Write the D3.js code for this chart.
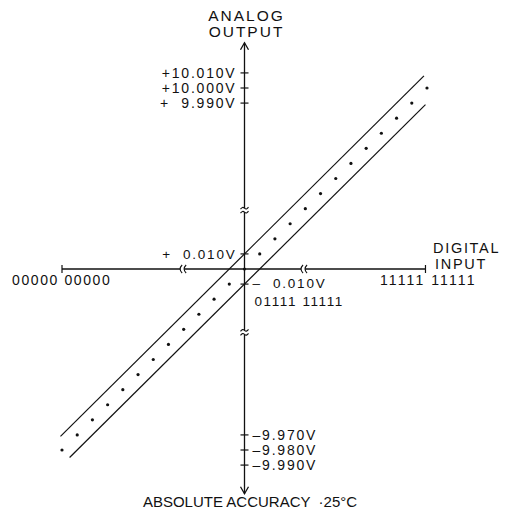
<!DOCTYPE html>
<html>
<head>
<meta charset="utf-8">
<script src="https://cdn.jsdelivr.net/npm/d3@7"></script>
<style>
  html, body { margin: 0; padding: 0; background: #fff; }
  svg { display: block; }
  text { font-family: "Liberation Sans", Arial, Helvetica, sans-serif; fill: #111; white-space: pre; }
</style>
</head>
<body>
<svg id="chart" width="510" height="521"></svg>
<script>
// ---- data (schematic units: 1 unit = one drawn step = 0.010 V offset) ----
const codeSteps   = [-12,-11,-10,-9,-8,-7,-6,-5,-4,-3,-2,-1,0,1,2,3,4,5,6,7,8,9,10,11,12];
const outputSteps = [-12,-11,-10,-9,-8,-7,-6,-5,-4,-3,-2,-1,0,1,2,3,4,5,6,7,8,9,10,11,12];
const errorBand   = 1;                      // ±0.010 V
const upperBandSteps = [-12.1, 11.8];       // extent of +error line
const lowerBandSteps = [-11.5, 11.9];       // extent of -error line
const yTickValues = [13, 12, 11, 1, -1, -11, -12, -13];
const yTickLabels = ["+10.010V", "+10.000V", "+  9.990V", "+  0.010V", "–  0.010V", "–9.970V", "–9.980V", "–9.990V"];
const xCodeValues = [-12, 0, 12];
const xCodeLabels = ["00000 00000", "01111 11111", "11111 11111"];
const xAxisExtent = [-12, 11.9];
const yAxisExtent = [15, -14.9];
const xBreaks = [-4.1, 3.85];
const yBreaks = [3.9, -4.2];
const yTitle = ["ANALOG", "OUTPUT"];
const xTitle = ["DIGITAL", "INPUT"];
const chartTitle = "ABSOLUTE ACCURACY  ·25°C";

const svg = d3.select("#chart");
svg.append("rect").attr("width", 510).attr("height", 521).attr("fill", "#fff");

const x = d3.scaleLinear().domain([-12, 12]).range([62, 427]);
const y = d3.scaleLinear().domain([-12, 12]).range([450, 88]);
const X0 = x(0), Y0 = y(0);
const ink = "#111";

// ---- axes ----
const g = svg.append("g");
// horizontal axis (digital input)
g.append("line").attr("x1", x(xAxisExtent[0])).attr("x2", x(xAxisExtent[1]))
  .attr("y1", Y0).attr("y2", Y0).attr("stroke", ink).attr("stroke-width", 1.3);
xAxisExtent.forEach(v => {
  g.append("line").attr("x1", x(v)).attr("x2", x(v)).attr("y1", Y0 - 4).attr("y2", Y0 + 4)
    .attr("stroke", ink).attr("stroke-width", 1.2);
});
// vertical axis (analog output)
g.append("line").attr("x1", X0).attr("x2", X0)
  .attr("y1", y(yAxisExtent[0])).attr("y2", y(yAxisExtent[1]))
  .attr("stroke", ink).attr("stroke-width", 1.3);
// arrowheads
[[yAxisExtent[0], 1], [yAxisExtent[1], -1]].forEach(([v, dir]) => {
  const ty = y(v);
  g.append("path")
    .attr("d", `M${X0 - 4},${ty + dir * 7} L${X0},${ty} L${X0 + 4},${ty + dir * 7}`)
    .attr("fill", "none").attr("stroke", ink).attr("stroke-width", 1.3);
});
// y ticks
g.selectAll(".ytick").data(yTickValues).join("line")
  .attr("x1", X0 - 4).attr("x2", X0 + 4)
  .attr("y1", d => y(d)).attr("y2", d => y(d))
  .attr("stroke", ink).attr("stroke-width", 1.2);

// breaks on vertical axis
yBreaks.forEach(v => {
  const by = y(v);
  g.append("rect").attr("x", X0 - 3).attr("y", by - 2).attr("width", 6).attr("height", 4).attr("fill", "#fff");
  [-2, 2].forEach(o => {
    g.append("path")
      .attr("d", `M${X0 - 4},${by + o + 1} Q${X0 - 2},${by + o - 2} ${X0},${by + o} T${X0 + 4},${by + o - 1}`)
      .attr("fill", "none").attr("stroke", ink).attr("stroke-width", 1.1);
  });
});
// breaks on horizontal axis (chevron-like marks)
xBreaks.forEach(v => {
  const bx = x(v);
  g.append("rect").attr("x", bx - 2).attr("y", Y0 - 3).attr("width", 4).attr("height", 6).attr("fill", "#fff");
  [-2, 2].forEach(o => {
    g.append("path")
      .attr("d", `M${bx + o + 2},${Y0 - 4} Q${bx + o - 2},${Y0} ${bx + o + 2},${Y0 + 4}`)
      .attr("fill", "none").attr("stroke", ink).attr("stroke-width", 1.1);
  });
});

// ---- error band lines ----
const line = d3.line().x(d => x(d[0])).y(d => y(d[1]));
svg.append("path").datum(upperBandSteps.map(s => [s, s + errorBand]))
  .attr("d", line).attr("fill", "none").attr("stroke", ink).attr("stroke-width", 1.2);
svg.append("path").datum(lowerBandSteps.map(s => [s, s - errorBand]))
  .attr("d", line).attr("fill", "none").attr("stroke", ink).attr("stroke-width", 1.2);

// ---- ideal transfer points ----
svg.selectAll(".dot").data(codeSteps.map((c, i) => [c, outputSteps[i]])).join("circle")
  .attr("cx", d => x(d[0])).attr("cy", d => y(d[1])).attr("r", 1.6).attr("fill", ink);

// ---- labels ----
const T = svg.append("g");
const fs = 14, ls = 1.8;
yTickValues.forEach((v, i) => {
  const left = v > 0; // labels left of axis for positive, right for negative
  const near = Math.abs(v) === 1;
  T.append("text")
    .attr("x", left ? X0 - 8 : X0 + 8)
    .attr("y", y(v) + (near && !left ? -1 : 0)).attr("dy", "0.36em")
    .attr("text-anchor", left ? "end" : "start")
    .attr("font-size", near ? 13.5 : fs).attr("letter-spacing", ls)
    .text(yTickLabels[i]);
});
// code labels
const codePos = [
  { dx: -50, dy: 16 },
  { dx: 10, dy: 37 },
  { dx: -47, dy: 16 }
];
xCodeValues.forEach((v, i) => {
  T.append("text")
    .attr("x", x(v) + codePos[i].dx).attr("y", Y0 + codePos[i].dy)
    .attr("text-anchor", "start")
    .attr("font-size", i === 1 ? 13.5 : fs).attr("letter-spacing", i === 2 ? 2.1 : 1.6)
    .text(xCodeLabels[i]);
});
// axis titles
yTitle.forEach((t, i) => {
  T.append("text").attr("x", X0 + 2).attr("y", 21 + i * 16)
    .attr("text-anchor", "middle").attr("font-size", 15.5).attr("letter-spacing", 2)
    .text(t);
});
xTitle.forEach((t, i) => {
  T.append("text").attr("x", 433 + i * 2).attr("y", 253 + i * 16)
    .attr("text-anchor", "start").attr("font-size", 14.5).attr("letter-spacing", 1.7)
    .text(t);
});
T.append("text").attr("x", 250).attr("y", 507)
  .attr("text-anchor", "middle").attr("font-size", 15).attr("letter-spacing", 0)
  .text(chartTitle);
</script>
</body>
</html>
